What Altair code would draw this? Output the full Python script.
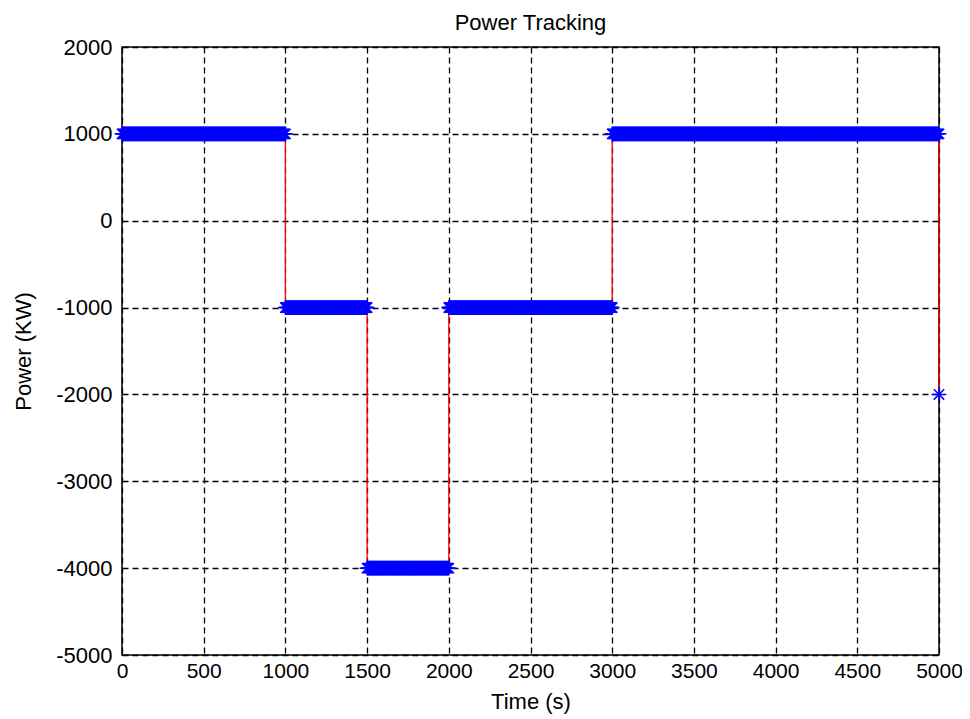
import altair as alt
import pandas as pd

# Step profile: each segment = (start time, end time, power level)
seg_start = [0, 1000, 1500, 2000, 3000]
seg_end = [1000, 1500, 2000, 3000, 5000]
seg_level = [1000, -1000, -4000, -1000, 1000]
sample_step = 5  # seconds between samples
final_time = [5000]
final_level = [-2000]

rows = []
i = 0
for s, e, lv in zip(seg_start, seg_end, seg_level):
    t = s
    while t <= e:
        rows.append({"t": t, "p": lv, "i": i})
        i += 1
        t += sample_step
for t, lv in zip(final_time, final_level):
    rows.append({"t": t, "p": lv, "i": i})
    i += 1
df = pd.DataFrame(rows)

x_ticks = list(range(0, 5001, 500))
y_ticks = list(range(-5000, 2001, 1000))

FONT = "Liberation Sans"

x_enc = alt.X("t:Q", scale=alt.Scale(domain=[0, 5000], nice=False, zero=False),
              axis=alt.Axis(values=x_ticks, title="Time (s)", labelFlush=False,
                            labelExpr="toString(datum.value)"))
y_enc = alt.Y("p:Q", scale=alt.Scale(domain=[-5000, 2000], nice=False, zero=False),
              axis=alt.Axis(values=y_ticks, title="Power (KW)", labelFlush=False,
                            labelExpr="toString(datum.value)"))

line = alt.Chart(df).mark_line(color="#ff0000", strokeWidth=1.3).encode(
    x=x_enc, y=y_enc, order="i:Q")

asterisk = "M-1,0L1,0M0,-1L0,1M-0.7,-0.7L0.7,0.7M-0.7,0.7L0.7,-0.7"
pts = alt.Chart(df).mark_point(shape=asterisk, color="#0000ff", filled=False,
                               strokeWidth=1.5, size=220, opacity=1).encode(
    x=x_enc, y=y_enc)

chart = (line + pts).properties(
    width=817, height=608,
    title=alt.TitleParams("Power Tracking", fontSize=22, font=FONT,
                          fontWeight="normal", offset=1, color="black"),
    padding={"left": 114, "top": 39, "right": 23, "bottom": 62},
    autosize=alt.AutoSizeParams(type="none"),
).configure_view(
    stroke="black", strokeWidth=1.5
).configure_axis(
    grid=True, gridColor="black", gridDash=[6, 4], gridOpacity=1, gridWidth=1.3,
    domain=False, ticks=False,
    labelFont=FONT, labelFontSize=22, labelColor="black",
    titleFont=FONT, titleFontSize=22, titleFontWeight="normal", titleColor="black",
).configure_axisX(
    labelPadding=5, titlePadding=10, labelFontSize=21,
).configure_axisY(
    labelPadding=10, titlePadding=20,
)

chart.save("out.html", embed_options={"renderer": "svg", "actions": False})
